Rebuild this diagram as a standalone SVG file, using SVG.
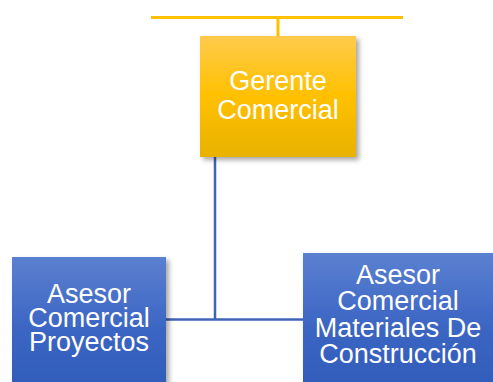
<svg xmlns="http://www.w3.org/2000/svg" width="493" height="382" viewBox="0 0 493 382">
<defs>
<linearGradient id="gy" x1="0" y1="0" x2="0" y2="1">
<stop offset="0" stop-color="#FFCB4C"/>
<stop offset="0.5" stop-color="#FFC000"/>
<stop offset="1" stop-color="#E8B200"/>
</linearGradient>
<linearGradient id="gb" x1="0" y1="0" x2="0" y2="1">
<stop offset="0" stop-color="#5B80D0"/>
<stop offset="0.5" stop-color="#3C66C4"/>
<stop offset="1" stop-color="#2F5AB8"/>
</linearGradient>
<filter id="sh" x="-10%" y="-10%" width="130%" height="130%">
<feDropShadow dx="3" dy="3" stdDeviation="2.5" flood-color="#000" flood-opacity="0.35"/>
</filter>
</defs>
<style>
.t{font-family:"Liberation Sans",Arial,sans-serif;font-size:27px;fill:#fff;text-anchor:middle}
.cy{stroke:#FFC000;stroke-width:3;fill:none}
.cb{stroke:#3F63B8;stroke-width:2.5;fill:none}
</style>
<g id="connectors">
<line class="cy" x1="151" y1="17.5" x2="403" y2="17.5"/>
<line class="cy" x1="278" y1="17.5" x2="278" y2="36"/>
<line class="cb" x1="215" y1="157" x2="215" y2="319.5"/>
<line class="cb" x1="166" y1="319.5" x2="303" y2="319.5"/>
</g>
<g id="gerente">
<rect x="200" y="36" width="156" height="121" fill="url(#gy)" filter="url(#sh)"/>
<text class="t" x="278" y="90">Gerente</text>
<text class="t" x="278" y="118.5">Comercial</text>
</g>
<g id="asesor-proyectos">
<rect x="12" y="257" width="154" height="140" fill="url(#gb)" filter="url(#sh)"/>
<text class="t" x="89" y="303">Asesor</text>
<text class="t" x="89" y="327">Comercial</text>
<text class="t" x="89" y="351">Proyectos</text>
</g>
<g id="asesor-materiales">
<rect x="303" y="253" width="195" height="145" fill="url(#gb)" filter="url(#sh)"/>
<text class="t" x="398" y="284">Asesor</text>
<text class="t" x="398" y="310">Comercial</text>
<text class="t" x="398" y="337">Materiales De</text>
<text class="t" x="398" y="363">Construcción</text>
</g>
</svg>
